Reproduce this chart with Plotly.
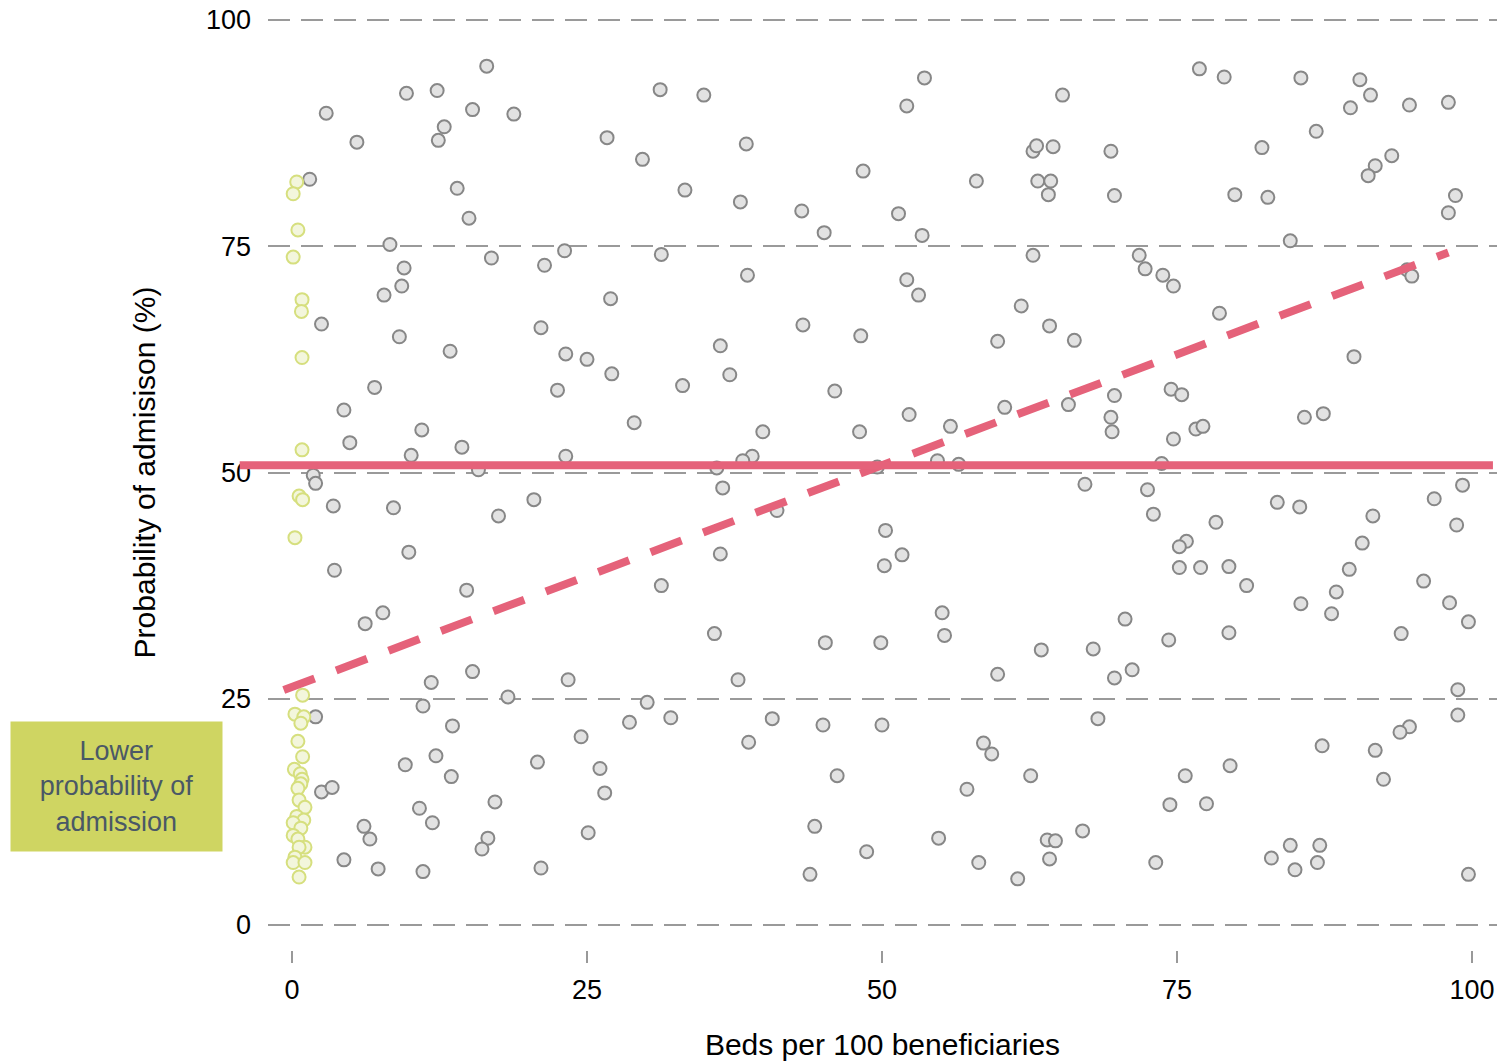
import plotly.graph_objects as go

# ---- data ----
beds_other = [2.9, 5.5, 1.5, 9.7, 12.3, 16.5, 15.3, 18.8, 12.9, 12.4, 14.0, 15.0, 26.7, 31.2, 29.7, 33.3,
              8.3, 9.5, 9.3, 7.8, 2.5, 9.1, 16.9, 21.4, 23.1, 31.3, 27.0, 21.1, 13.4, 23.2, 25.0, 27.1,
              22.5, 33.1, 7.0, 4.4, 11.0, 4.9, 10.1, 14.4, 23.2, 29.0, 15.8, 1.8, 2.0,
              34.9, 38.5, 38.0, 43.2, 45.1, 48.4, 52.1, 53.6, 51.4, 53.4, 58.0, 62.8, 63.1, 64.5, 65.3,
              63.2, 64.3, 64.1, 62.8, 38.6, 52.1, 53.1, 61.8, 64.2, 66.3, 59.8, 43.3, 48.2, 36.3, 37.1,
              46.0, 52.3, 60.4, 65.8, 55.8, 48.1, 39.9, 39.0, 38.2, 36.0, 54.7, 56.5, 49.6, 67.2, 36.5,
              76.9, 79.0, 85.5, 90.5, 91.4, 89.7, 94.7, 98.0, 86.8, 69.4, 82.2, 93.2, 91.8, 91.2, 69.7,
              79.9, 82.7, 98.6, 98.0, 84.6, 71.8, 72.3, 73.8, 74.7, 94.5, 94.9, 78.6, 90.0, 69.7, 69.4,
              69.5, 74.5, 75.4, 74.7, 76.6, 77.2, 85.8, 87.4, 73.7, 72.5, 99.2,
              3.5, 8.6, 17.5, 20.5, 9.9, 3.6, 14.8, 31.3, 6.2, 7.7, 11.8, 15.3, 23.4, 18.3, 2.0, 11.1,
              13.6, 30.1, 28.6, 32.1, 24.5, 12.2, 9.6, 20.8, 26.1, 13.5, 26.5, 2.5, 3.4, 10.8, 11.9,
              17.2, 6.1, 6.6, 16.6, 16.1, 25.1, 4.4, 7.3, 11.1, 21.1,
              41.1, 36.3, 50.3, 51.7, 50.2, 55.1, 55.3, 35.8, 45.2, 49.9, 63.5, 67.9, 59.8, 37.8, 69.7,
              40.7, 45.0, 50.0, 68.3, 38.7, 58.6, 59.3, 46.2, 62.6, 57.2, 44.3, 54.8, 64.0, 64.7, 67.0,
              48.7, 58.2, 64.2, 43.9, 61.5,
              73.0, 83.5, 85.4, 96.8, 98.7, 91.6, 78.3, 75.8, 75.2, 75.2, 77.0, 79.4, 80.9, 90.7, 89.6,
              88.5, 88.1, 85.5, 95.9, 98.1, 99.7, 94.0, 79.4, 74.3, 70.6, 71.2, 98.8, 98.8, 94.7, 93.9,
              87.3, 91.8, 92.5, 75.7, 79.5, 74.4, 77.5, 84.6, 87.1, 83.0, 85.0, 86.9, 73.2, 99.7]
admission_other = [89.7, 86.5, 82.4, 91.9, 92.2, 94.9, 90.1, 89.6, 88.2, 86.7, 81.4, 78.1, 87.0, 92.3, 84.6, 81.2,
                   75.2, 72.6, 70.6, 69.6, 66.4, 65.0, 73.7, 72.9, 74.5, 74.1, 69.2, 66.0, 63.4, 63.1, 62.5, 60.9,
                   59.1, 59.6, 59.4, 56.9, 54.7, 53.3, 51.9, 52.8, 51.8, 55.5, 50.3, 49.7, 48.8,
                   91.7, 86.3, 79.9, 78.9, 76.5, 83.3, 90.5, 93.6, 78.6, 76.2, 82.2, 85.5, 86.1, 86.0, 91.7,
                   82.2, 82.2, 80.7, 74.0, 71.8, 71.3, 69.6, 68.4, 66.2, 64.6, 64.5, 66.3, 65.1, 64.0, 60.8,
                   59.0, 56.4, 57.2, 57.5, 55.1, 54.5, 54.5, 51.8, 51.3, 50.5, 51.3, 50.9, 50.6, 48.7, 48.3,
                   94.6, 93.7, 93.6, 93.4, 91.7, 90.3, 90.6, 90.9, 87.7, 85.5, 85.9, 85.0, 83.9, 82.8, 80.6,
                   80.7, 80.4, 80.6, 78.7, 75.6, 74.0, 72.5, 71.8, 70.6, 72.4, 71.7, 67.6, 62.8, 58.5, 56.1,
                   54.5, 59.2, 58.6, 53.7, 54.8, 55.1, 56.1, 56.5, 51.0, 48.1, 48.6,
                   46.3, 46.1, 45.2, 47.0, 41.2, 39.2, 37.0, 37.5, 33.3, 34.5, 26.8, 28.0, 27.1, 25.2, 23.0, 24.2,
                   22.0, 24.6, 22.4, 22.9, 20.8, 18.7, 17.7, 18.0, 17.3, 16.4, 14.6, 14.7, 15.2, 12.9, 11.3,
                   13.6, 10.9, 9.5, 9.6, 8.4, 10.2, 7.2, 6.2, 5.9, 6.3,
                   45.8, 41.0, 43.6, 40.9, 39.7, 34.5, 32.0, 32.2, 31.2, 31.2, 30.4, 30.5, 27.7, 27.1, 27.3,
                   22.8, 22.1, 22.1, 22.8, 20.2, 20.1, 18.9, 16.5, 16.5, 15.0, 10.9, 9.6, 9.4, 9.3, 10.4,
                   8.1, 6.9, 7.3, 5.6, 5.1,
                   45.4, 46.7, 46.2, 47.1, 44.2, 45.2, 44.5, 42.4, 41.8, 39.5, 39.5, 39.6, 37.5, 42.2, 39.3,
                   36.8, 34.4, 35.5, 38.0, 35.6, 33.5, 32.2, 32.3, 31.5, 33.8, 28.2, 26.0, 23.2, 21.9, 21.3,
                   19.8, 19.3, 16.1, 16.5, 17.6, 13.3, 13.4, 8.8, 8.8, 7.4, 6.1, 6.9, 6.9, 5.6]

beds_low = [0.4, 0.1, 0.5, 0.1, 0.85, 0.8, 0.85, 0.85, 0.6, 0.9, 0.25, 0.9, 0.25, 1.0, 0.75, 0.5, 0.9, 0.2,
            0.7, 0.85, 0.75, 0.5, 0.6, 1.1, 0.4, 1.0, 0.1, 0.75, 0.1, 0.5, 1.1, 0.6, 0.25, 0.1, 1.1, 0.6]
admission_low = [82.1, 80.8, 76.8, 73.8, 69.1, 67.8, 62.7, 52.5, 47.4, 47.0, 42.8, 25.4, 23.3, 23.0, 22.3, 20.3,
                 18.6, 17.2, 16.7, 16.1, 15.6, 15.1, 13.8, 13.0, 12.0, 11.6, 11.3, 10.7, 9.9, 9.5, 8.6, 8.6,
                 7.5, 6.9, 6.9, 5.3]

mean_admission = 50.8
trend_x = [-0.7, 98.0]
trend_intercept = 26.3
trend_slope = 0.49

x_ticks = [0, 25, 50, 75, 100]
y_ticks = [0, 25, 50, 75, 100]

FONT = "Liberation Sans, Arial, sans-serif"
RED = "#e5627a"

fig = go.Figure()

fig.add_trace(go.Scatter(
    x=beds_other, y=admission_other, mode="markers",
    marker=dict(size=13, color="#e2e2e2", line=dict(color="#878787", width=2)),
    cliponaxis=False, showlegend=False, hoverinfo="x+y"))

fig.add_trace(go.Scatter(
    x=beds_low, y=admission_low, mode="markers",
    marker=dict(size=13, color="#f3f6dc", line=dict(color="#d6df7e", width=2)),
    cliponaxis=False, showlegend=False, hoverinfo="x+y"))

trend_y = [trend_intercept + trend_slope * v for v in trend_x]
fig.add_trace(go.Scatter(
    x=trend_x, y=trend_y, mode="lines",
    line=dict(color=RED, width=8, dash="33px,23px"),
    showlegend=False, hoverinfo="skip"))

# horizontal mean line (extends slightly beyond the plot's left edge)
fig.add_shape(type="line", xref="paper", yref="y",
              x0=-0.023, x1=0.9967, y0=mean_admission, y1=mean_admission,
              line=dict(color=RED, width=8), layer="above")

fig.add_annotation(
    xref="paper", yref="paper", x=-0.1233, y=0.1749, xanchor="center", yanchor="middle",
    text="Lower<br>probability of<br>admission", showarrow=False,
    width=211, height=129, borderpad=0, bgcolor="#cfd562",
    font=dict(family=FONT, size=27, color="#4a5866"), align="center", valign="middle")

fig.update_layout(
    width=1502, height=1063,
    margin=dict(l=268, r=5, t=15, b=113),
    paper_bgcolor="white", plot_bgcolor="white",
    font=dict(family=FONT, size=27, color="#000000"),
    xaxis=dict(
        range=[-2.034, 102.12], tickvals=x_ticks, ticktext=[str(v) for v in x_ticks],
        showgrid=False, zeroline=False, showline=False, automargin=False,
        ticks="outside", ticklen=12, tickwidth=2, tickcolor="#999999",
        anchor="free", position=0, ticklabelstandoff=4, ticklabeloverflow="allow",
        tickfont=dict(family=FONT, size=27, color="#000000"),
        title=dict(text="Beds per 100 beneficiaries", font=dict(family=FONT, size=30, color="#000000"),
                   standoff=29),
    ),
    yaxis=dict(
        domain=[0.0214, 1], range=[-0.55, 100.55], tickvals=y_ticks,
        ticktext=[str(v) for v in y_ticks], automargin=False,
        showgrid=True, gridcolor="#9a9a9a", gridwidth=2, griddash="22px,11px",
        zeroline=False, showline=False, ticks="",
        ticklabelstandoff=16, ticklabeloverflow="allow",
        tickfont=dict(family=FONT, size=27, color="#000000"),
        title=dict(text="Probability of admisison (%)", font=dict(family=FONT, size=30, color="#000000"),
                   standoff=41),
    ),
)

fig.write_html("out.html", config={"displayModeBar": False},
               post_script="document.body.style.margin='0'; document.body.style.overflow='hidden';")
